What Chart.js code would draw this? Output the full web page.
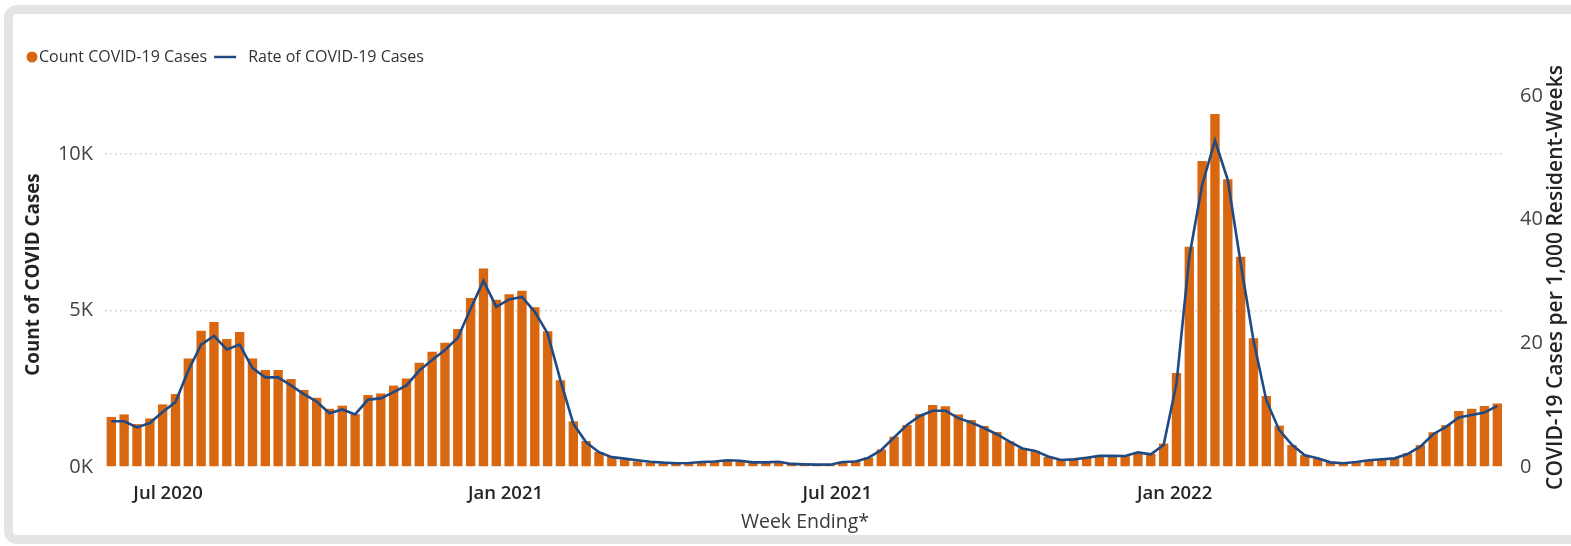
<!DOCTYPE html>
<html>
<head>
<meta charset="utf-8">
<title>COVID-19 Cases by Week</title>
<script src="https://cdn.jsdelivr.net/npm/chart.js@4.4.1/dist/chart.umd.min.js"></script>
<style>
  html, body { margin: 0; padding: 0; background: #ffffff; width: 1571px; height: 546px; overflow: hidden; }
  #frame {
    position: absolute; left: 4px; top: 5px; width: 1620px; height: 539px;
    box-sizing: border-box; border: 9px solid #e4e4e4; border-radius: 13px;
  }
  #wrap { position: absolute; left: 0; top: 0; width: 1571px; height: 546px; }
</style>
</head>
<body>
<div id="frame"></div>
<div id="wrap"><canvas id="chart" width="1571" height="546"></canvas></div>
<script>
// Weekly series, one entry per week ending (first week ends 2020-05-31)
const firstWeekEnding = '2020-05-31';

// Count of COVID-19 cases per week
const caseCounts = [
  1600, 1680, 1370, 1550, 2000, 2330, 3470, 4350, 4630, 4090,
  4310, 3470, 3100, 3100, 2810, 2460, 2210, 1860, 1960, 1690,
  2300, 2350, 2600, 2830, 3330, 3680, 3970, 4410, 5400, 6340,
  5340, 5520, 5630, 5100, 4340, 2770, 1460, 830, 480, 320,
  240, 180, 140, 100, 110, 140, 170, 170, 200, 180,
  140, 140, 170, 100, 90, 70, 70, 170, 200, 300,
  560, 970, 1340, 1690, 1980, 1940, 1680, 1500, 1310, 1120,
  820, 600, 520, 320, 230, 240, 300, 350, 360, 350,
  480, 420, 750, 3000, 7040, 9780, 11280, 9190, 6720, 4110,
  2270, 1320, 700, 380, 260, 160, 120, 150, 220, 240,
  280, 440, 700, 1110, 1340, 1790, 1860, 1950, 2030
];

// COVID-19 cases per 1,000 resident-weeks
const caseRates = [
  7.4, 7.4, 6.4, 7.1, 8.9, 10.5, 15.6, 19.8, 21.2, 19.0,
  19.8, 16.0, 14.5, 14.5, 13.2, 11.8, 10.6, 8.7, 9.3, 8.5,
  10.9, 11.1, 12.1, 13.2, 15.6, 17.3, 18.9, 20.9, 25.6, 30.1,
  25.9, 27.1, 27.5, 25.1, 21.6, 14.0, 7.0, 4.0, 2.4, 1.6,
  1.35, 1.1, 0.85, 0.7, 0.6, 0.65, 0.8, 0.9, 1.08, 1.0,
  0.75, 0.75, 0.86, 0.5, 0.43, 0.38, 0.38, 0.8, 0.9, 1.5,
  2.75, 4.8, 6.8, 8.25, 9.1, 9.1, 7.9, 7.2, 6.3, 5.3,
  4.1, 3.0, 2.6, 1.7, 1.13, 1.24, 1.5, 1.8, 1.83, 1.78,
  2.37, 2.05, 3.56, 13.5, 34.0, 45.6, 52.8, 46.4, 33.0, 20.5,
  10.8, 6.0, 3.6, 1.9, 1.4, 0.75, 0.6, 0.8, 1.1, 1.25,
  1.4, 2.1, 3.3, 5.3, 6.5, 8.0, 8.4, 8.8, 9.9
];

// Axis ticks and titles
const monthTickDates  = ['2020-07-01', '2021-01-01', '2021-07-01', '2022-01-01'];
const monthTickLabels = ['Jul 2020', 'Jan 2021', 'Jul 2021', 'Jan 2022'];
const countTicks = [0, 5000, 10000];
const rateTicks  = [0, 20, 40, 60];
const rateAxisTitle = 'COVID-19 Cases per 1,000 Resident-Weeks';

const DAY = 86400000;
const toDay = s => Date.parse(s + 'T00:00:00Z') / DAY;

// Week-ending dates as day numbers
const weekDays = caseCounts.map((_, i) => toDay(firstWeekEnding) + 7 * i);

const FONT = '"Open Sans", "Noto Sans", sans-serif';
const ORANGE = '#D8670F';
const NAVY = '#1F4A84';

// Legend row above the plot
const seriesKey = {
  id: 'seriesKey',
  afterDraw(chart) {
    const ctx = chart.ctx;
    const [bars, rate] = chart.data.datasets;
    const y = 57;
    ctx.save();
    ctx.font = '16px ' + FONT;
    ctx.textBaseline = 'middle';
    ctx.fillStyle = bars.backgroundColor;
    ctx.beginPath();
    ctx.arc(32, y, 5.5, 0, Math.PI * 2);
    ctx.fill();
    ctx.fillStyle = '#333333';
    ctx.fillText(bars.label, 39, y);
    const x = 39 + ctx.measureText(bars.label).width + 7;
    ctx.strokeStyle = rate.borderColor;
    ctx.lineWidth = 2.5;
    ctx.beginPath();
    ctx.moveTo(x, y);
    ctx.lineTo(x + 22, y);
    ctx.stroke();
    ctx.fillText(rate.label, x + 34, y);
    ctx.restore();
  }
};

// Title of the secondary (rate) axis, written bottom-to-top beside its ticks
const rateAxisLabel = {
  id: 'rateAxisLabel',
  afterDraw(chart) {
    const ctx = chart.ctx;
    const s = chart.scales.y1;
    ctx.save();
    ctx.translate(s.right - 13, (s.top + s.bottom) / 2 + 3);
    ctx.rotate(-Math.PI / 2);
    ctx.font = '600 21px ' + FONT;
    ctx.fillStyle = '#252423';
    ctx.textAlign = 'center';
    ctx.textBaseline = 'middle';
    ctx.fillText(rateAxisTitle, 0, 0);
    ctx.restore();
  }
};

new Chart(document.getElementById('chart'), {
  type: 'bar',
  data: {
    datasets: [
      {
        type: 'bar',
        label: 'Count COVID-19 Cases',
        data: weekDays.map((d, i) => ({ x: d, y: caseCounts[i] })),
        backgroundColor: ORANGE,
        borderWidth: 0,
        barPercentage: 0.73,
        categoryPercentage: 1.0,
        yAxisID: 'y',
        order: 2
      },
      {
        type: 'line',
        label: 'Rate of COVID-19 Cases',
        data: weekDays.map((d, i) => ({ x: d, y: caseRates[i] })),
        borderColor: NAVY,
        backgroundColor: NAVY,
        borderWidth: 2.6,
        pointRadius: 0,
        tension: 0,
        yAxisID: 'y1',
        order: 1
      }
    ]
  },
  options: {
    responsive: false,
    animation: false,
    devicePixelRatio: 1,
    layout: { padding: { top: 82, left: 18, right: 2, bottom: 0 } },
    plugins: { legend: { display: false }, tooltip: { enabled: false } },
    scales: {
      x: {
        type: 'linear',
        offset: false,
        min: weekDays[0] - 3.44,
        max: weekDays[weekDays.length - 1] + 4.2,
        grid: { display: false },
        border: { display: false },
        afterBuildTicks: s => { s.ticks = monthTickDates.map(d => ({ value: toDay(d) })); },
        afterFit: s => { s.height = 79; },
        ticks: {
          autoSkip: false, maxRotation: 0, minRotation: 0, padding: 8,
          color: '#252423',
          font: { family: FONT, size: 18.5, weight: '600' },
          callback: (v, i) => monthTickLabels[i]
        },
        title: {
          display: true, text: 'Week Ending*', color: '#3a3a3a',
          font: { family: FONT, size: 19.5 }, padding: { top: 0, bottom: 12 }
        }
      },
      y: {
        position: 'left',
        min: 0, max: 12300,
        afterBuildTicks: s => { s.ticks = countTicks.map(v => ({ value: v })); },
        afterFit: s => { s.width = 87; },
        grid: {
          drawTicks: false, lineWidth: 1.5,
          color: c => (c.tick && c.tick.value === 0) ? 'rgba(0,0,0,0)' : '#cbcbcb'
        },
        border: { display: false, dash: [1.5, 3.5] },
        ticks: {
          padding: 12, color: '#444444',
          font: { family: FONT, size: 20 },
          callback: v => (v / 1000) + 'K'
        },
        title: {
          display: true, text: 'Count of COVID Cases', color: '#252423',
          font: { family: FONT, size: 18.8, weight: 'bold' }, padding: { top: 4, bottom: 0 }
        }
      },
      y1: {
        position: 'right',
        min: 0, max: 62.26,
        afterBuildTicks: s => { s.ticks = rateTicks.map(v => ({ value: v })); },
        afterFit: s => { s.width = 64; },
        grid: { display: false, drawOnChartArea: false },
        border: { display: false },
        ticks: {
          padding: 7, color: '#444444',
          font: { family: FONT, size: 20 }
        },
        title: { display: false }
      }
    }
  },
  plugins: [seriesKey, rateAxisLabel]
});
</script>
</body>
</html>
